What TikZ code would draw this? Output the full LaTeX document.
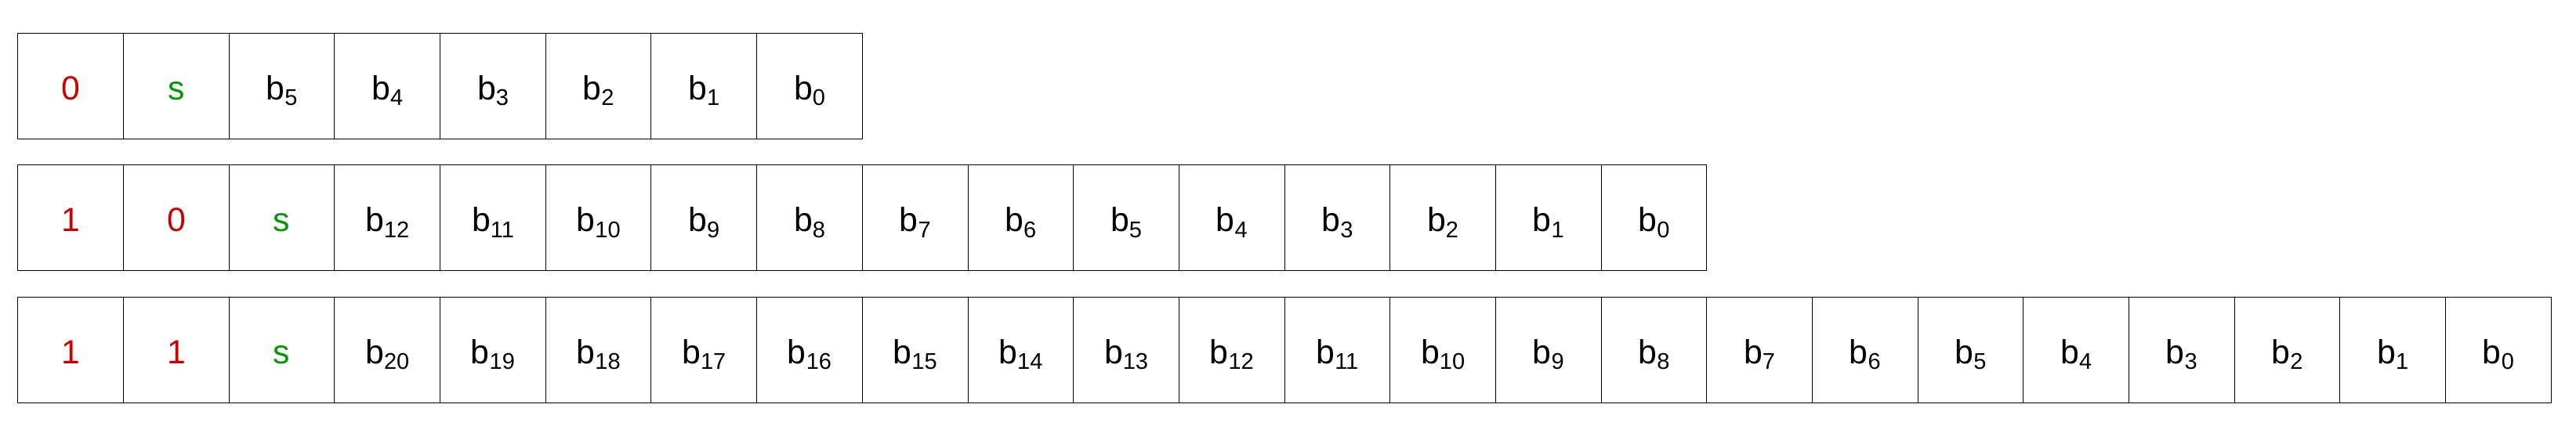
\documentclass[tikz,border=0pt]{standalone}
\usepackage{fontspec}
\setmainfont{Liberation Sans}
\usetikzlibrary{positioning}
\definecolor{flagred}{RGB}{204,0,0}
\definecolor{signgreen}{RGB}{0,153,0}
\tikzset{cell/.style={draw,line width=0.5pt,minimum width=67.34pt,minimum height=67.5pt,
  inner sep=0pt,outer sep=0pt,text height=17.3pt,text depth=0pt,
  font=\fontsize{21.4}{25}\selectfont},
  flag/.style={cell,text=flagred},
  sign/.style={cell,text=signgreen}}
\def\bit#1{b\raisebox{-3.8pt}{\fontsize{14.5}{17}\selectfont #1}}
\begin{document}
\begin{tikzpicture}[node distance=0pt]
    \useasboundingbox (0,0) rectangle (1643.5pt,272pt);
    % one byte
    \node [flag] (1c1) at (45.12pt,217.1pt) {0};
    \node [sign,right=of 1c1] (1s) {s};
    \node [cell,right=of 1s] (1b5) {\bit5};
    \node [cell,right=of 1b5] (1b4) {\bit4};
    \node [cell,right=of 1b4] (1b3) {\bit3};
    \node [cell,right=of 1b3] (1b2) {\bit2};
    \node [cell,right=of 1b2] (1b1) {\bit1};
    \node [cell,right=of 1b1] (1b0) {\bit0};
    % two bytes
    \node [flag,below=16.75pt of 1c1] (2c1) {1};
    \node [flag,right=of 2c1] (2c2) {0};
    \node [sign,right=of 2c2] (2s) {s};
    \node [cell,right=of 2s] (2b12) {\bit{12}};
    \node [cell,right=of 2b12] (2b11) {\bit{11}};
    \node [cell,right=of 2b11] (2b10) {\bit{10}};
    \node [cell,right=of 2b10] (2b9) {\bit9};
    \node [cell,right=of 2b9] (2b8) {\bit8};
    \node [cell,right=of 2b8] (2b7) {\bit7};
    \node [cell,right=of 2b7] (2b6) {\bit6};
    \node [cell,right=of 2b6] (2b5) {\bit5};
    \node [cell,right=of 2b5] (2b4) {\bit4};
    \node [cell,right=of 2b4] (2b3) {\bit3};
    \node [cell,right=of 2b3] (2b2) {\bit2};
    \node [cell,right=of 2b2] (2b1) {\bit1};
    \node [cell,right=of 2b1] (2b0) {\bit0};
    % three bytes
    \node [flag,below=16.75pt of 2c1] (3c1) {1};
    \node [flag,right=of 3c1] (3c2) {1};
    \node [sign,right=of 3c2] (3s) {s};
    \node [cell,right=of 3s] (3b20) {\bit{20}};
    \node [cell,right=of 3b20] (3b19) {\bit{19}};
    \node [cell,right=of 3b19] (3b18) {\bit{18}};
    \node [cell,right=of 3b18] (3b17) {\bit{17}};
    \node [cell,right=of 3b17] (3b16) {\bit{16}};
    \node [cell,right=of 3b16] (3b15) {\bit{15}};
    \node [cell,right=of 3b15] (3b14) {\bit{14}};
    \node [cell,right=of 3b14] (3b13) {\bit{13}};
    \node [cell,right=of 3b13] (3b12) {\bit{12}};
    \node [cell,right=of 3b12] (3b11) {\bit{11}};
    \node [cell,right=of 3b11] (3b10) {\bit{10}};
    \node [cell,right=of 3b10] (3b9) {\bit9};
    \node [cell,right=of 3b9] (3b8) {\bit8};
    \node [cell,right=of 3b8] (3b7) {\bit7};
    \node [cell,right=of 3b7] (3b6) {\bit6};
    \node [cell,right=of 3b6] (3b5) {\bit5};
    \node [cell,right=of 3b5] (3b4) {\bit4};
    \node [cell,right=of 3b4] (3b3) {\bit3};
    \node [cell,right=of 3b3] (3b2) {\bit2};
    \node [cell,right=of 3b2] (3b1) {\bit1};
    \node [cell,right=of 3b1] (3b0) {\bit0};
\end{tikzpicture}
\end{document}
